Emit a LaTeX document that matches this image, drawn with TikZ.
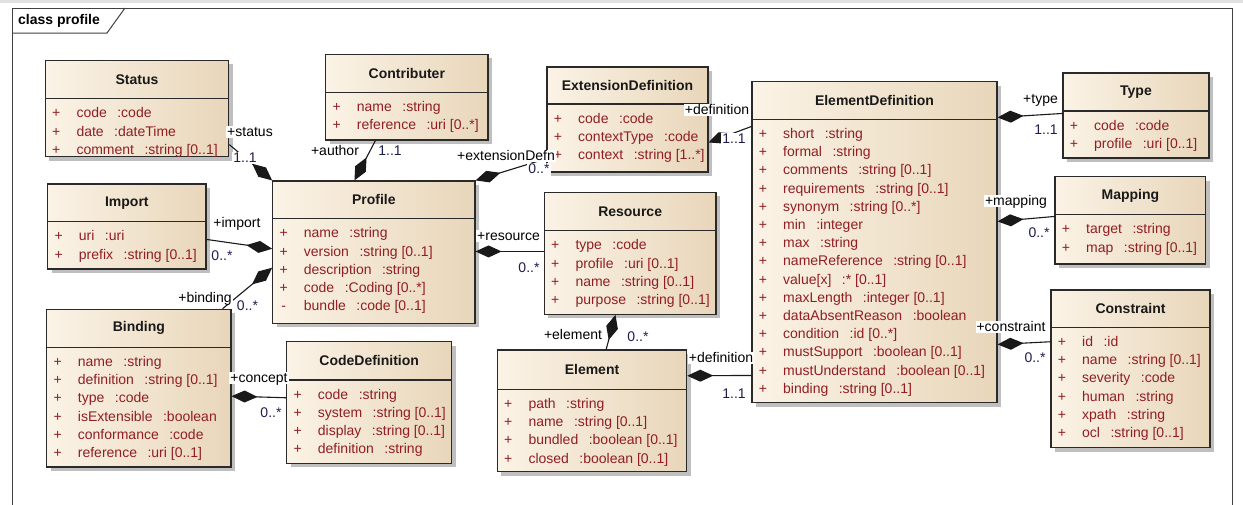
\documentclass[tikz,border=0pt]{standalone}
\usepackage{fontspec}
\setmainfont{Liberation Sans}
\usetikzlibrary{arrows.meta,calc,shadows}
\definecolor{cL}{HTML}{FBF3E6}
\definecolor{cR}{HTML}{E8D6BA}
\definecolor{attrred}{RGB}{145,30,35}
\definecolor{multblue}{RGB}{30,30,80}
\definecolor{edgecol}{HTML}{2A2A2A}
\tikzset{
  classbox/.style={draw=edgecol, line width=1.1pt, rectangle, inner sep=0pt,
    left color=cL, right color=cR,
    drop shadow={shadow xshift=4pt, shadow yshift=-4pt, fill=black!25, opacity=1}},
  divider/.style={draw=edgecol, line width=1.1pt},
  classtitle/.style={font=\fontsize{14}{16}\selectfont\bfseries, inner sep=0pt, text=black!90},
  attrtext/.style={font=\fontsize{14}{16}\selectfont, text=attrred, inner sep=0pt,
    text height=9pt, text depth=0pt, anchor=west},
  attrsign/.style={attrtext, anchor=center},
  comp/.style={draw=black!90, line width=1.1pt, {Diamond[length=26pt,width=12pt]}-},
  role/.style={font=\fontsize{14}{16}\selectfont, fill=white, inner sep=1pt,
    text height=9pt, text depth=1pt},
  mult/.style={role, text=multblue},
  frameline/.style={draw=black!75, line width=1pt},
}
% #1 name, #2 x1, #3 y1, #4 x2, #5 y2, #6 divider y, #7 title, #8 rows
\newcommand{\umlclass}[8]{%
  \node[classbox, minimum width={(#4-#2)*1pt}, minimum height={(#5-#3)*1pt}] (#1) at ({(#2+#4)/2},{(#3+#5)/2}) {};
  \draw[divider] (#1.west |- 0,#6) -- (#1.east |- 0,#6);
  \node[classtitle] (#1-title) at ({(#2+#4)/2},{(#3+#6)/2}) {#7};
  \foreach \asign/\aname/\atype [count=\ai from 0] in {#8} {
    \node[attrsign] (#1-s\ai) at ({#2+11},{#6+14.6+18.2*\ai}) {\asign};
    \node[attrtext] (#1-a\ai) at ({#2+31},{#6+14.6+18.2*\ai}) {\aname\hspace{0.75em}:\atype};
  }%
}
\begin{document}
\begin{tikzpicture}[x=1pt,y=-1pt]
\useasboundingbox (0,0) rectangle (1243,504);
\clip (0,0) rectangle (1243,504);
\fill[white] (0,0) rectangle (1243,504);
\fill[black!12] (0,0) rectangle (1243,2.5);
% frame
\draw[frameline] (12,8) rectangle (1232,530);
\draw[frameline] (12,33) -- (107,33) -- (125,8);
\node[font=\fontsize{14}{16}\selectfont\bfseries, anchor=west, inner sep=0pt] (frametitle) at (18,20.5) {class profile};

% classes
\umlclass{Status}{45.3}{60.3}{228.7}{156.7}{98.7}{Status}
  {+/code/code, +/date/dateTime, +/comment/string [0..1]}
\umlclass{Contributer}{325.7}{54.3}{488}{140}{92.3}{Contributer}
  {+/name/string, +/reference/uri [0..*]}
\umlclass{ExtDef}{547}{67}{708}{172}{104}{ExtensionDefinition}
  {+/code/code, +/contextType/code, +/context/string [1..*]}
\umlclass{ElemDef}{752}{81.7}{997}{402.7}{119.3}{ElementDefinition}
  {+/short/string, +/formal/string, +/comments/string [0..1], +/requirements/string [0..1],
   +/synonym/string [0..*], +/min/integer, +/max/string, +/nameReference/string [0..1],
   +/value[x]/* [0..1], +/maxLength/integer [0..1], +/dataAbsentReason/boolean,
   +/condition/id [0..*], +/mustSupport/boolean [0..1], +/mustUnderstand/boolean [0..1],
   +/binding/string [0..1]}
\umlclass{Type}{1063}{73}{1209}{158}{111}{Type}
  {+/code/code, +/profile/uri [0..1]}
\umlclass{Mapping}{1055}{176.7}{1205.7}{264}{214.7}{Mapping}
  {+/target/string, +/map/string [0..1]}
\umlclass{Constraint}{1051}{290}{1210}{447.7}{327.3}{Constraint}
  {+/id/id, +/name/string [0..1], +/severity/code, +/human/string, +/xpath/string, +/ocl/string [0..1]}
\umlclass{Import}{47.7}{184}{206}{269}{221.7}{Import}
  {+/uri/uri, +/prefix/string [0..1]}
\umlclass{Profile}{272.7}{181}{475}{323.3}{218.7}{Profile}
  {+/name/string, +/version/string [0..1], +/description/string, +/code/Coding [0..*], -/bundle/code [0..1]}
\umlclass{Resource}{544.3}{192.3}{716}{314.3}{230.7}{Resource}
  {+/type/code, +/profile/uri [0..1], +/name/string [0..1], +/purpose/string [0..1]}
\umlclass{Binding}{46.7}{309.3}{231}{467}{347.3}{Binding}
  {+/name/string, +/definition/string [0..1], +/type/code, +/isExtensible/boolean, +/conformance/code, +/reference/uri [0..1]}
\umlclass{CodeDef}{286.7}{341.7}{451.7}{463.3}{380}{CodeDefinition}
  {+/code/string, +/system/string [0..1], +/display/string [0..1], +/definition/string}
\umlclass{Element}{497.3}{350}{686.7}{471.7}{389.3}{Element}
  {+/path/string, +/name/string [0..1], +/bundled/boolean [0..1], +/closed/boolean [0..1]}

% connectors (diamond at the owning class)
\draw[comp] (Profile.north west) -- ($(Status.south east)+(0,-12.7)$);
\draw[comp] ($(Profile.north west)+(82.3,0)$) -- ($(Contributer.south west)+(50.3,0)$);
\draw[comp] (Profile.north east) -- ($(ExtDef.south west)+(0,-14)$);
\draw[comp] ($(ExtDef.north east)+(0,76)$) -- ($(ElemDef.north west)+(0,45.3)$);
\draw[comp] ($(ElemDef.north east)+(0,36.3)$) -- ($(Type.north west)+(0,41)$);
\draw[comp] ($(ElemDef.north east)+(0,140.3)$) -- ($(Mapping.north west)+(0,40.3)$);
\draw[comp] ($(ElemDef.north east)+(0,263.3)$) -- ($(Constraint.north west)+(0,52.3)$);
\draw[comp] ($(Profile.north west)+(0,68.3)$) -- ($(Import.north east)+(0,56)$);
\draw[comp] ($(Profile.north west)+(0,87.3)$) -- ($(Binding.north east)+(-9,0)$);
\draw[comp] ($(Profile.north east)+(0,71)$) -- ($(Resource.north west)+(0,59.7)$);
\draw[comp] ($(Resource.south west)+(71.7,0)$) -- ($(Element.north west)+(109.4,0)$);
\draw[comp] ($(Binding.north east)+(0,87.4)$) -- ($(CodeDef.north west)+(0,56.6)$);
\draw[comp] ($(Element.north east)+(0,26.3)$) -- ($(ElemDef.north west)+(0,294.3)$);

% role names and multiplicities
\node[role] (lstatus) at (250,132) {+status};
\node[mult] (mstatus) at (245,158) {1..1};
\node[role] (lauthor) at (335,151) {+author};
\node[mult] (mauthor) at (390,151) {1..1};
\node[role] (lextdefn) at (506,156) {+extensionDefn};
\node[mult] (mextdefn) at (539,169) {0..*};
\node[role] (ldefa) at (717,110) {+definition};
\node[mult] (mdefa) at (734,139) {1..1};
\node[role] (ltype) at (1040.5,99) {+type};
\node[mult] (mtype) at (1046,130) {1..1};
\node[role] (lmap) at (1016,201) {+mapping};
\node[mult] (mmap) at (1039,233) {0..*};
\node[role] (lcons) at (1011,327) {+constraint};
\node[mult] (mcons) at (1035,358) {0..*};
\node[role] (limport) at (237,223) {+import};
\node[mult] (mimport) at (222,256) {0..*};
\node[role] (lbind) at (205,298) {+binding};
\node[mult] (mbind) at (247.5,306) {0..*};
\node[role] (lres) at (508.5,236) {+resource};
\node[mult] (mres) at (529,268) {0..*};
\node[role] (lelem) at (573,335) {+element};
\node[mult] (melem) at (638,337) {0..*};
\node[role] (lconc) at (259,378) {+concept};
\node[mult] (mconc) at (271,413) {0..*};
\node[role] (ldefb) at (721,358) {+definition};
\node[mult] (mdefb) at (734,394) {1..1};
\end{tikzpicture}
\end{document}
